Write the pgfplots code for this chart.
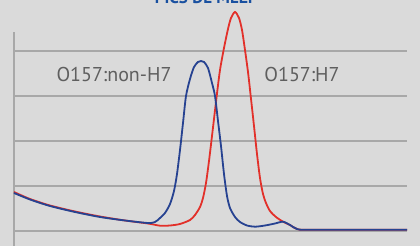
\documentclass[border=0pt]{standalone}
\usepackage{pgfplots}
\pgfplotsset{compat=1.18}
\usepackage{fontspec}
\setmainfont{PT Sans}
\definecolor{bgc}{RGB}{218,218,218}
\definecolor{gridc}{RGB}{168,168,168}
\definecolor{redc}{RGB}{226,48,42}
\definecolor{bluec}{RGB}{38,66,145}
\definecolor{txtc}{RGB}{95,95,95}
\definecolor{titc}{RGB}{25,80,160}
\begin{document}
\begin{tikzpicture}
\fill[bgc] (0pt,0pt) rectangle (420pt,246pt);
\begin{axis}[
  at={(14pt,0pt)}, anchor=south west,
  x=1pt, y=1pt,
  xmin=14, xmax=407, ymin=0, ymax=214,
  clip=false,
  axis x line=none,
  axis y line*=left,
  y axis line style={draw=gridc, line width=2.2pt, -},
  ytick={15.3,60.3,105.3,150,195.3},
  yticklabels={},
  xtick=\empty,
  major tick length=0pt,
  ymajorgrids,
  grid style={draw=gridc, line width=2.2pt},
]
\addplot[redc, line width=1.8pt, smooth, tension=0.45] coordinates {
(14,54) (30,47) (50,40.5) (75,34.5) (100,29.5) (125,25.5) (148,22.5) (160,20.3) (170,20.5) (180,22) (190,26) (195,31) (200,39) (203,48) (206,63) (209,85) (212,110) (216.7,150) (220,176) (224,198) (228,217) (231,228) (235,234) (239,228) (242,216) (245,196) (248,174) (250.7,150) (254,120) (257,92) (260,68) (263,52) (266,43) (270,35) (276,29) (283,24.3) (290,21) (297,17) (310,16.2) (407,16.2)
};
\addplot[bluec, line width=1.8pt, smooth, tension=0.45] coordinates {
(14,53) (30,46.5) (50,40) (75,34) (100,29) (125,25.5) (148,23) (155,24) (160,28) (165,33) (170,42) (174,55) (177,72) (180,96) (183,123) (186,150) (190,167) (194,179) (198,184) (201,185) (204,184) (208,178) (212,163) (215,150) (218,125) (221,100) (224,72) (227,50) (230,38) (235,29) (240,24) (247,20.5) (255,19.3) (265,20.5) (275,22.5) (283,24.3) (290,21) (297,17) (310,16.2) (407,16.2)
};
\node[txtc, font=\fontsize{20}{22}\selectfont] at (axis cs:114,171) {O157:non-H7};
\node[txtc, font=\fontsize{20}{22}\selectfont] at (axis cs:302,171) {O157:H7};
\end{axis}
\node[titc, anchor=base, font=\fontsize{17}{20}\selectfont\bfseries] at (205pt,242pt) {PICS DE MELT};
\pgfresetboundingbox
\useasboundingbox (0pt,0pt) rectangle (420pt,246pt);
\end{tikzpicture}
\end{document}
